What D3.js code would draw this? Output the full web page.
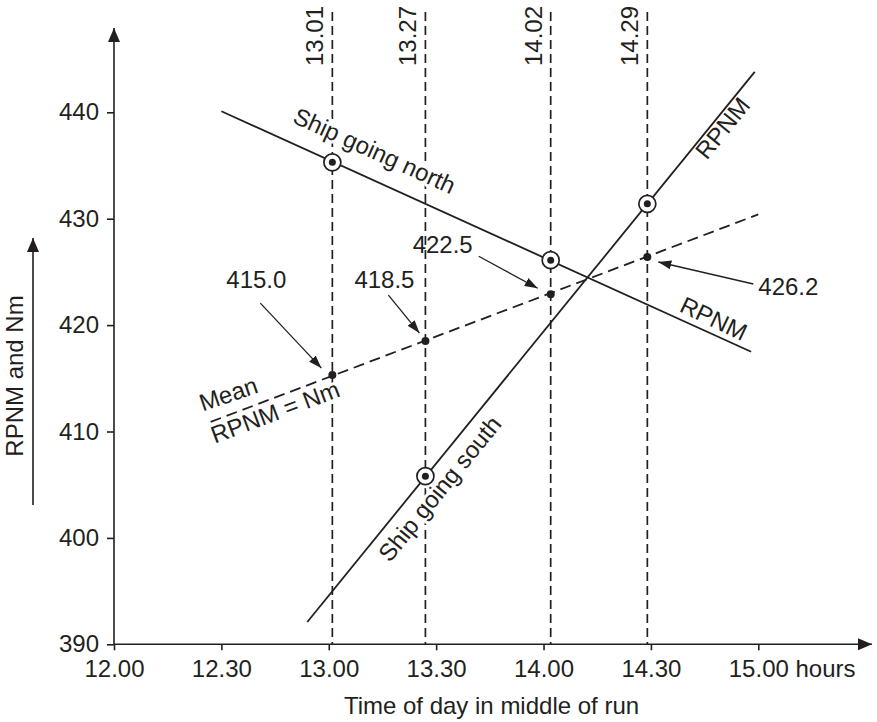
<!DOCTYPE html>
<html><head><meta charset="utf-8">
<script src="https://cdn.jsdelivr.net/npm/d3@7"></script>
<style>
html,body{margin:0;padding:0;background:#fff;}
svg{display:block;font-family:"Liberation Sans",Arial,Helvetica,sans-serif;}
</style></head><body>
<svg id="chart" width="877" height="722"></svg>
<script>
// ---- data ----
const xTickLabels = ["12.00","12.30","13.00","13.30","14.00","14.30","15.00"];
const yTickValues = [390,400,410,420,430,440];
const runTimes = ["13.01","13.27","14.02","14.29"];
const meanValues = [415.3,418.5,422.9,426.4];
const meanLabels = ["415.0","418.5","422.5","426.2"];
const northTimes = ["13.01","14.02"];
const northValues = [435.3,426.1];
const northLineTimes = ["12.30","14.58"];
const northLineValues = [440.1,417.5];
const southTimes = ["13.27","14.29"];
const southValues = [405.8,431.4];
const southLineTimes = ["12.54","14.59"];
const southLineValues = [392.1,443.8];
const meanLineTimes = ["12.27","15.00"];
const meanLineValues = [410.9,430.4];

function toMin(s){const p=s.split(".").map(Number);return (p[0]-12)*60+p[1];}

const ink = "#231f20";
const FS = 24;
const x = d3.scaleLinear().domain([0,180]).range([114,758.3]);
const y = d3.scaleLinear().domain([390,440]).range([644.3,112.3]);
const svg = d3.select("#chart");
const defs = svg.append("defs");
function marker(id,len,wid){
  defs.append("marker").attr("id",id)
    .attr("viewBox",`0 ${-wid/2} ${len} ${wid}`)
    .attr("refX",len).attr("refY",0)
    .attr("markerWidth",len).attr("markerHeight",wid)
    .attr("markerUnits","userSpaceOnUse").attr("orient","auto")
    .append("path").attr("d",`M0,${-wid/2}L${len},0L0,${wid/2}Z`).attr("fill",ink);
}
marker("axisArrow",14,12);
marker("annArrow",13,9);

// ---- vertical run lines ----
const gRuns = svg.append("g");
gRuns.selectAll("line").data(runTimes).join("line")
  .attr("x1",d=>x(toMin(d))).attr("x2",d=>x(toMin(d)))
  .attr("y1",12).attr("y2",y(390))
  .attr("stroke",ink).attr("stroke-width",1.7).attr("stroke-dasharray","9,5");
gRuns.selectAll("text").data(runTimes).join("text")
  .attr("transform",d=>`translate(${x(toMin(d))-9},66) rotate(-90)`)
  .attr("font-size",FS).attr("fill",ink).text(d=>d);

// ---- axes ----
const labelByMin = new Map(xTickLabels.map(l=>[toMin(l),l]));
const gx = svg.append("g").attr("transform",`translate(0,${y(390)})`)
  .call(d3.axisBottom(x).tickValues(xTickLabels.map(toMin)).tickFormat(d=>labelByMin.get(d)).tickSize(6).tickPadding(10));
gx.attr("font-family",null).attr("font-size",FS);
gx.select(".domain").remove();
gx.selectAll(".tick line").attr("stroke",ink).attr("stroke-width",1.6);
gx.selectAll(".tick text").attr("fill",ink);
const lastTxt = gx.selectAll(".tick text").filter((d,i,n)=>i===n.length-1);
const w15 = lastTxt.node().getComputedTextLength();
lastTxt.attr("text-anchor","start").attr("x",-w15/2).text(labelByMin.get(180)+" hours");

const gy = svg.append("g").attr("transform",`translate(${x(0)},0)`)
  .call(d3.axisLeft(y).tickValues(yTickValues).tickSize(7).tickPadding(8));
gy.attr("font-family",null).attr("font-size",FS);
gy.select(".domain").remove();
gy.selectAll(".tick line").attr("stroke",ink).attr("stroke-width",1.6);
gy.selectAll(".tick text").attr("fill",ink);

svg.append("line").attr("x1",x(0)).attr("y1",y(390)).attr("x2",872).attr("y2",y(390))
  .attr("stroke",ink).attr("stroke-width",1.6).attr("marker-end","url(#axisArrow)");
svg.append("line").attr("x1",x(0)).attr("y1",y(390)).attr("x2",x(0)).attr("y2",28)
  .attr("stroke",ink).attr("stroke-width",1.6).attr("marker-end","url(#axisArrow)");

svg.append("text").attr("x",491.5).attr("y",714).attr("text-anchor","middle")
  .attr("font-size",FS).attr("fill",ink).text("Time of day in middle of run");
svg.append("text").attr("transform","translate(23,376) rotate(-90)").attr("text-anchor","middle")
  .attr("font-size",FS).attr("fill",ink).text("RPNM and Nm");
svg.append("line").attr("x1",33).attr("y1",505).attr("x2",33).attr("y2",238)
  .attr("stroke",ink).attr("stroke-width",1.6).attr("marker-end","url(#axisArrow)");

// ---- data lines ----
const lineGen = d3.line().x(d=>x(toMin(d[0]))).y(d=>y(d[1]));
function drawLine(times, values, dash){
  const pts = times.map((t,i)=>[t,values[i]]);
  const p = svg.append("path").attr("d",lineGen(pts)).attr("fill","none")
    .attr("stroke",ink).attr("stroke-width",1.8);
  if(dash) p.attr("stroke-dasharray",dash);
}
drawLine(northLineTimes,northLineValues,null);
drawLine(southLineTimes,southLineValues,null);
drawLine(meanLineTimes,meanLineValues,"11,6");

function geom(times, values){
  const p0=[x(toMin(times[0])),y(values[0])], p1=[x(toMin(times[1])),y(values[1])];
  const dx=p1[0]-p0[0], dy=p1[1]-p0[1], L=Math.hypot(dx,dy);
  return {ux:dx/L, uy:dy/L, angle:Math.atan2(dy,dx)*180/Math.PI, yAt:px=>p0[1]+(px-p0[0])*dy/dx};
}
const gN = geom(northLineTimes,northLineValues);
const gS = geom(southLineTimes,southLineValues);
const gM = geom(meanLineTimes,meanLineValues);
function alongLabel(g, minute, d, text, halo, extraRot){
  const px=x(minute), py=g.yAt(px);
  const nx=g.uy, ny=-g.ux;
  const t = svg.append("text")
    .attr("transform",`translate(${px+d*nx},${py+d*ny}) rotate(${g.angle+(extraRot||0)})`)
    .attr("font-size",FS).attr("fill",ink).text(text);
  if(halo) t.attr("stroke","#fff").attr("stroke-width",6).attr("stroke-linejoin","round").attr("paint-order","stroke");
}
alongLabel(gN,47.4,19,"Ship going north",true);
alongLabel(gN,156.8,7,"RPNM",false,1);
alongLabel(gS,71.2,-27,"Ship going south",true);
alongLabel(gS,161.5,-19,"RPNM",false);
alongLabel(gM,26,12.5,"Mean",false,2);
alongLabel(gM,26,-22,"RPNM = Nm",true);

// ---- circled points ----
function circled(times, values){
  const g = svg.append("g");
  const pts = times.map((t,i)=>[x(toMin(t)),y(values[i])]);
  g.selectAll("circle.ring").data(pts).join("circle").attr("class","ring")
    .attr("cx",d=>d[0]).attr("cy",d=>d[1]).attr("r",8.5)
    .attr("fill","#fff").attr("stroke",ink).attr("stroke-width",1.7);
  g.selectAll("circle.dot").data(pts).join("circle").attr("class","dot")
    .attr("cx",d=>d[0]).attr("cy",d=>d[1]).attr("r",3.5).attr("fill",ink);
}
circled(northTimes,northValues);
circled(southTimes,southValues);

// ---- mean points and annotations ----
const meanPts = runTimes.map((t,i)=>({x:x(toMin(t)),y:y(meanValues[i]),label:meanLabels[i]}));
svg.append("g").selectAll("circle").data(meanPts).join("circle")
  .attr("cx",d=>d.x).attr("cy",d=>d.y).attr("r",4).attr("fill",ink);

const annOffsets = [
  {tail:[-72,-72], tip:[-11,-7], lab:[-76,-87], anchor:"middle"},
  {tail:[-37,-46], tip:[-6,-8], lab:[-41,-53], anchor:"middle"},
  {tail:[-72,-38], tip:[-13,-6], lab:[-108,-41], anchor:"middle"},
  {tail:[106,27], tip:[11,5], lab:[111,38], anchor:"start"}
];
const gA = svg.append("g");
meanPts.forEach((p,i)=>{
  const o = annOffsets[i];
  gA.append("line").attr("x1",p.x+o.tail[0]).attr("y1",p.y+o.tail[1])
    .attr("x2",p.x+o.tip[0]).attr("y2",p.y+o.tip[1])
    .attr("stroke",ink).attr("stroke-width",1.3).attr("marker-end","url(#annArrow)");
  gA.append("text").attr("x",p.x+o.lab[0]).attr("y",p.y+o.lab[1])
    .attr("text-anchor",o.anchor).attr("font-size",FS).attr("fill",ink).text(p.label);
});
</script>
</body></html>
